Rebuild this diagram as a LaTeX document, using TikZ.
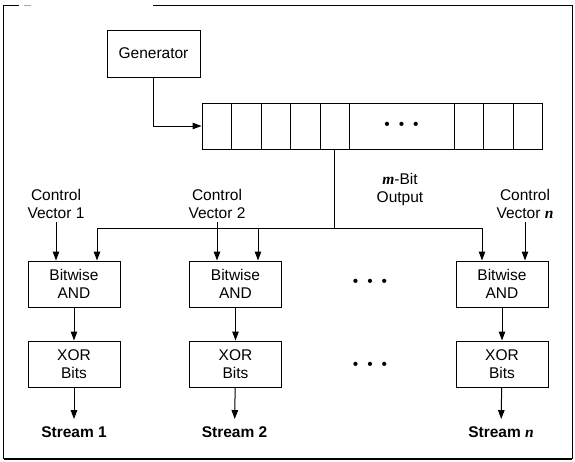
\documentclass[tikz,border=0pt]{standalone}
\usepackage{fontspec}
\setmainfont{Liberation Sans}
\newfontfamily\tmsfont{Liberation Serif}
\usetikzlibrary{arrows.meta,positioning}

\newcommand{\threedots}{\textbullet\hspace{9pt}\textbullet\hspace{9pt}\textbullet}
\newcommand{\itvar}[1]{{\tmsfont\bfseries\itshape #1}}

\begin{document}
\begin{tikzpicture}[x=1pt,y=-1pt,line width=1pt,
    >={Triangle[length=9pt,width=6.5pt]},
    font=\fontsize{15.5}{18}\selectfont,
    box/.style={draw,minimum width=92pt,minimum height=46pt,align=center,inner sep=0pt},
    cell/.style={draw,minimum width=29.5pt,minimum height=46pt,inner sep=0pt},
    lbl/.style={align=center,inner sep=0pt},
    stream/.style={lbl,font=\fontsize{15.5}{18}\selectfont\bfseries}]
    \useasboundingbox (0,0) rectangle (575,461);
    % frame
    \draw (153,5) -- (572,5) -- (572,459);
    \draw[line width=1.8pt] (3.5,459) -- (572,459);
    \draw (19,5) -- (3.5,5) -- (3.5,459);
    \draw[gray!70] (24,5) -- (31,5);
    % generator and register
    \node[box,minimum width=93pt,minimum height=47pt] (gen) at (153.5,53.5) {Generator};
    \foreach \x [count=\i] in {216.75,246.25,275.75,305.25,334.75}
        \node[cell] (c\i) at (\x,126) {};
    \node[cell,minimum width=105pt] (cdots) at (401.5,126) {\threedots};
    \foreach \x [count=\i from 6] in {469,498.5,528}
        \node[cell] (c\i) at (\x,126) {};
    \draw[->] (gen.south) |- (c1.west);
    % m-bit output bus
    \coordinate (d1) at (97,228);
    \coordinate (d2) at (258,228);
    \coordinate (dn) at (482,228);
    \draw (c5.south) -- (c5.south |- d1);
    \draw (d1) -- (dn);
    \node[lbl] (mbit) at (400,189) {\itvar{m}-Bit\\Output};
    % streams
    \foreach \x/\n in {74/1,235.5/2,502/n} {
        \node[box] (and\n) at (\x,284) {Bitwise\\AND};
        \node[box] (xor\n) at (\x,364) {XOR\\Bits};
        \draw[->] (and\n) -- (xor\n);
    }
    \node[lbl] (cv1) at (56,204) {Control\\Vector 1};
    \node[lbl] (cv2) at (217,204) {Control\\Vector 2};
    \node[lbl] (cvn) at (525,204) {Control\\Vector \itvar{n}};
    \node[stream] (s1) at (74,432) {Stream 1};
    \node[stream] (s2) at (234.5,432) {Stream 2};
    \node[stream] (sn) at (501,432) {Stream \itvar{n}};
    \draw[->,shorten >=7pt] (xor1) -- (s1);
    \draw[->,shorten >=7pt] (xor2) -- (s2);
    \draw[->,shorten >=7pt] (xorn) -- (sn);
    \draw[->,shorten <=3pt] (cv1.south) -- (cv1.south |- and1.north);
    \draw[->,shorten <=3pt] (cv2.south) -- (cv2.south |- and2.north);
    \draw[->,shorten <=3pt] (cvn.south) -- (cvn.south |- andn.north);
    \draw[->] (d1) -- (d1 |- and1.north);
    \draw[->] (d2) -- (d2 |- and2.north);
    \draw[->] (dn) -- (dn |- andn.north);
    \node (dotsA) at (370,283) {\threedots};
    \node (dotsX) at (370,366) {\threedots};
\end{tikzpicture}
\end{document}
